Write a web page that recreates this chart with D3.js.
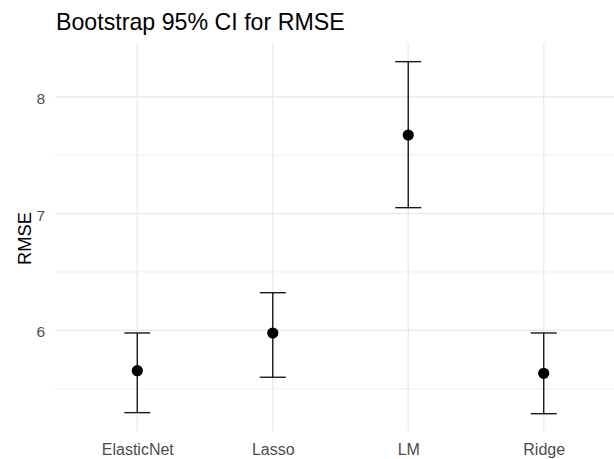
<!DOCTYPE html>
<html>
<head>
<meta charset="utf-8">
<script src="https://cdn.jsdelivr.net/npm/d3@7"></script>
<style>
  body { margin: 0; background: #fff; }
  svg { display: block; font-family: "Liberation Sans", Arial, sans-serif; }
</style>
</head>
<body>
<svg id="chart"></svg>
<script>
const models = ["ElasticNet", "Lasso", "LM", "Ridge"];
const rmse = [5.654, 5.977, 7.672, 5.632];
const lower = [5.295, 5.598, 7.05, 5.286];
const upper = [5.977, 6.322, 8.30, 5.977];
const yTicks = [6, 7, 8];
const yMinor = [5.5, 6.5, 7.5];

const width = 614;
const height = 459;
const panel = { left: 55, right: 614, top: 43, bottom: 431 };

const svg = d3.select("#chart")
    .attr("width", width)
    .attr("height", height);

const x = d3.scalePoint()
    .domain(models)
    .range([56, 625])
    .padding(0.6);

const y = d3.scaleLinear()
    .domain([6, 8])
    .range([330.3, 96.7]);

// grid
svg.append("g")
    .selectAll("line")
    .data(yMinor)
    .join("line")
    .attr("x1", panel.left).attr("x2", panel.right)
    .attr("y1", d => y(d)).attr("y2", d => y(d))
    .attr("stroke", "#ebebeb")
    .attr("stroke-width", 0.8);

svg.append("g")
    .selectAll("line")
    .data(yTicks)
    .join("line")
    .attr("x1", panel.left).attr("x2", panel.right)
    .attr("y1", d => y(d)).attr("y2", d => y(d))
    .attr("stroke", "#ebebeb")
    .attr("stroke-width", 1.4);

svg.append("g")
    .selectAll("line")
    .data(models)
    .join("line")
    .attr("x1", d => x(d)).attr("x2", d => x(d))
    .attr("y1", panel.top).attr("y2", panel.bottom)
    .attr("stroke", "#ebebeb")
    .attr("stroke-width", 1.4);

// axes (labels only, theme_minimal)
const yAxis = svg.append("g")
    .attr("transform", `translate(${panel.left - 10},0)`)
    .call(d3.axisLeft(y).tickValues(yTicks).tickFormat(d3.format("d")).tickSize(0).tickPadding(0));
yAxis.select(".domain").remove();
yAxis.selectAll("text")
    .attr("fill", "#4d4d4d")
    .attr("font-size", "15.5px")
    .attr("font-family", "Liberation Sans, Arial, sans-serif")
    .attr("dy", "0.42em");

const xAxis = svg.append("g")
    .attr("transform", `translate(0,${panel.bottom})`)
    .call(d3.axisBottom(x).tickSize(0).tickPadding(0));
xAxis.select(".domain").remove();
xAxis.selectAll("text")
    .attr("fill", "#4d4d4d")
    .attr("font-size", "16px")
    .attr("font-family", "Liberation Sans, Arial, sans-serif")
    .attr("dy", "0")
    .attr("y", 24);

// error bars
const data = models.map((m, i) => ({ model: m, rmse: rmse[i], lower: lower[i], upper: upper[i] }));
const capHalf = 13;

const bars = svg.append("g")
    .attr("stroke", "#1a1a1a")
    .attr("stroke-width", 1.4)
    .selectAll("g")
    .data(data)
    .join("g");

bars.append("line")
    .attr("x1", d => x(d.model)).attr("x2", d => x(d.model))
    .attr("y1", d => y(d.upper)).attr("y2", d => y(d.lower));
bars.append("line")
    .attr("x1", d => x(d.model) - capHalf).attr("x2", d => x(d.model) + capHalf)
    .attr("y1", d => y(d.upper)).attr("y2", d => y(d.upper));
bars.append("line")
    .attr("x1", d => x(d.model) - capHalf).attr("x2", d => x(d.model) + capHalf)
    .attr("y1", d => y(d.lower)).attr("y2", d => y(d.lower));

svg.append("g")
    .selectAll("circle")
    .data(data)
    .join("circle")
    .attr("cx", d => x(d.model))
    .attr("cy", d => y(d.rmse))
    .attr("r", 5.6)
    .attr("fill", "#000");

// titles
svg.append("text")
    .attr("x", 56)
    .attr("y", 29.5)
    .attr("font-size", "23.2px")
    .attr("fill", "#000")
    .text("Bootstrap 95% CI for RMSE");

svg.append("text")
    .attr("transform", `translate(30.5,238.5) rotate(-90)`)
    .attr("text-anchor", "middle")
    .attr("font-size", "18.3px")
    .attr("fill", "#000")
    .text("RMSE");
</script>
</body>
</html>
